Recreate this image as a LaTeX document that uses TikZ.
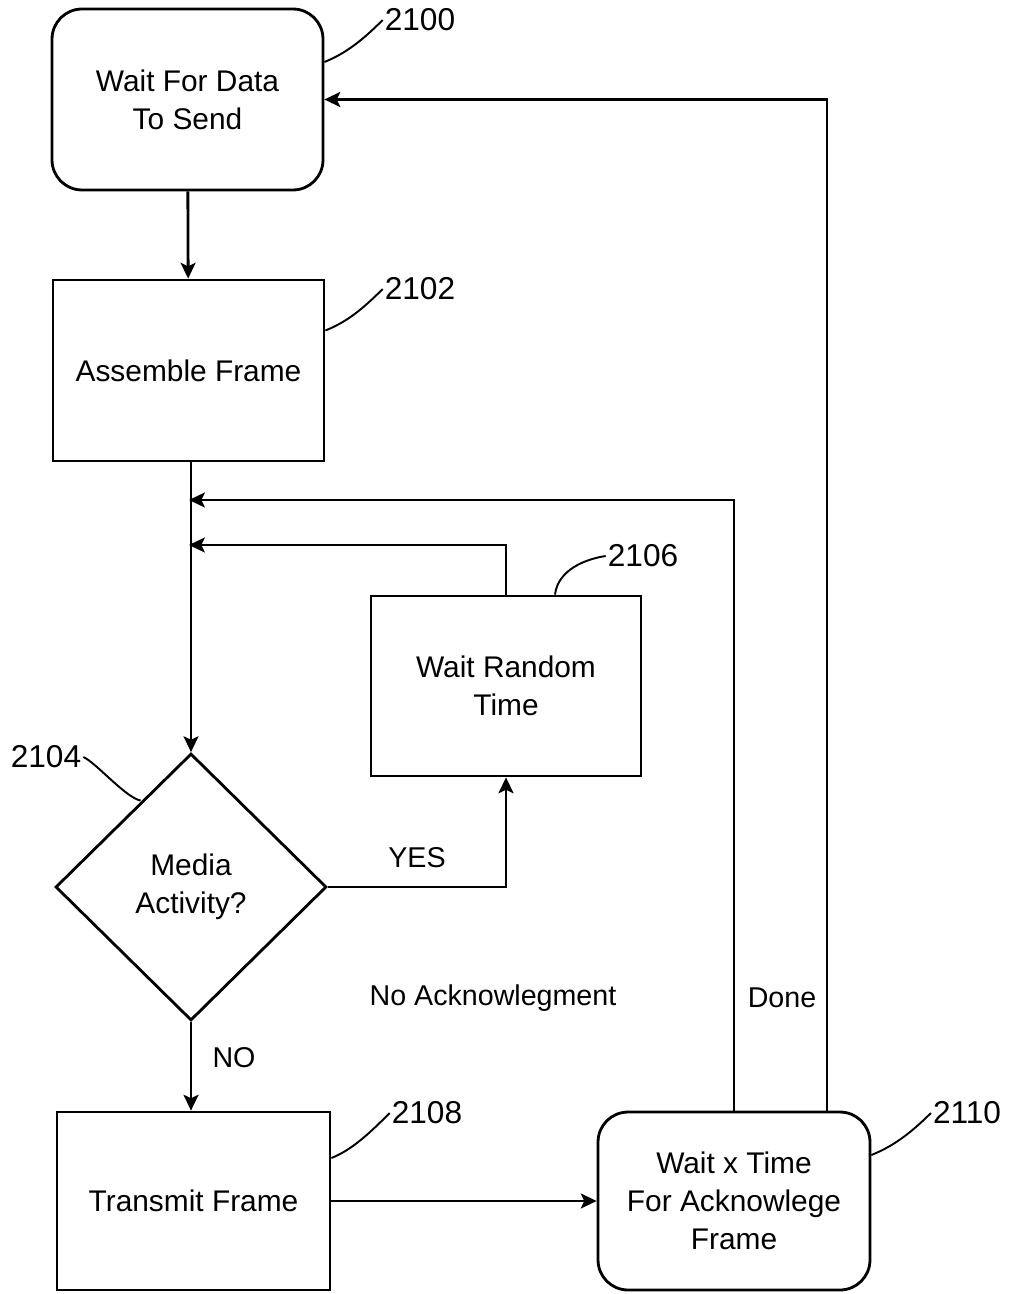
\documentclass[tikz,border=0pt]{standalone}
\usepackage{fontspec}
\setmainfont{Liberation Sans}
\usetikzlibrary{arrows.meta,positioning,shapes.geometric}
\tikzset{
  box/.style={draw,line width=1.6pt,align=center,minimum width=5.42cm,minimum height=3.62cm,inner sep=4pt,font=\fontsize{17}{21.5}\selectfont},
  rbox/.style={box,rounded corners=0.6cm},
  dbox/.style={box,diamond,minimum width=5.42cm,minimum height=5.34cm,inner sep=0pt},
  ar/.style={-{Stealth[length=9pt,width=8.5pt,inset=2pt]},line width=1.6pt},
  lead/.style={line width=1.1pt},
  refno/.style={font=\fontsize{18}{20}\selectfont,inner sep=1pt},
  lbl/.style={font=\fontsize{16.3}{20}\selectfont,inner sep=1pt},
}
\begin{document}
\begin{tikzpicture}[x=0.02cm,y=-0.02cm]
\useasboundingbox (0,0) rectangle (1010,1294);
\node[rbox] (wait) at (187.5,99.5) {Wait For Data\\To Send};
\node[box] (asm) at (188.5,370.5) {Assemble Frame};
\node[dbox] (media) at (191,887) {Media\\Activity?};
\node[box,minimum width=5.4cm,minimum height=3.6cm] (rand) at (506,686) {Wait Random\\Time};
\node[box,minimum width=5.46cm,minimum height=3.56cm] (xmit) at (193.5,1201) {Transmit Frame};
\node[rbox,minimum width=5.44cm,minimum height=3.56cm] (ack) at (734,1201) {Wait x Time\\For Acknowlege\\Frame};
\coordinate (j1) at (189,500);
\coordinate (j2) at (189,545);
\draw[ar] (wait) -- (asm);
\draw[ar] (media.north |- asm.south) -- (media.north);
\draw[ar] (media.east) -| (rand.south);
\draw[ar] (media.south) -- (media.south |- xmit.north);
\draw[ar] (xmit.east) -- (ack.west);
\draw[ar] (ack.north) |- (j1);
\draw[ar] ([xshift=1.86cm]ack.north) |- (wait.east);
\draw[ar] (rand.north) |- (j2);
\node[lbl] (yes) at (417,858) {YES};
\node[lbl] (no) at (234,1058) {NO};
\node[lbl] (noack) at (493,998) {No Acknowlegment};
\node[lbl] (done) at (782,998) {Done};
\node[refno] (r2100) at (420,20) {2100};
\node[refno] (r2102) at (420,289) {2102};
\node[refno] (r2106) at (643,556) {2106};
\node[refno] (r2104) at (46,757) {2104};
\node[refno] (r2108) at (427,1113) {2108};
\node[refno] (r2110) at (967,1113) {2110};
\draw[lead] ([yshift=0.75cm]wait.east) .. controls +(20,-8) and +(-22,22) .. (r2100.west);
\draw[lead] ([yshift=0.8cm]asm.east) .. controls +(20,-8) and +(-22,22) .. (r2102.west);
\draw[lead] ([xshift=0.98cm]rand.north) .. controls +(3,-25) and +(-20,3) .. (r2106.west);
\draw[lead] (r2104.east) .. controls +(12,5) and +(-15,-3) .. ([xshift=0.36cm,yshift=0.38cm]media.north west);
\draw[lead] ([yshift=0.86cm]xmit.east) .. controls +(20,-8) and +(-22,22) .. (r2108.west);
\draw[lead] ([yshift=0.92cm]ack.east) .. controls +(20,-8) and +(-22,22) .. (r2110.west);
\end{tikzpicture}
\end{document}
